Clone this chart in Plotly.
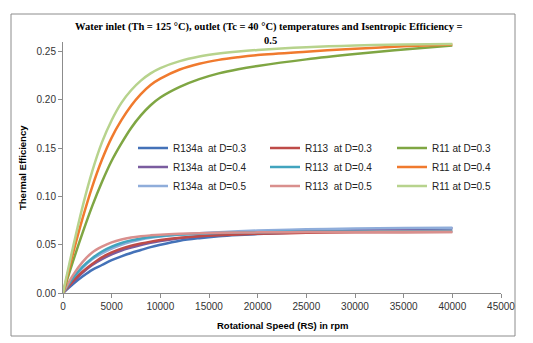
import plotly.graph_objects as go

rpm = [0, 1000, 2000, 3000, 4000, 5000, 6000, 7000, 8000, 9000, 10000, 12000, 14000,
       16000, 18000, 20000, 25000, 30000, 35000, 40000]

r134a_d03 = [0, 0.009, 0.017, 0.024, 0.029, 0.034, 0.038, 0.0415, 0.0445, 0.0475, 0.050, 0.0542, 0.0568,
             0.0587, 0.060, 0.061, 0.0632, 0.0650, 0.0662, 0.0672]
r134a_d04 = [0, 0.011, 0.021, 0.029, 0.035, 0.040, 0.044, 0.047, 0.0497, 0.052, 0.0538, 0.0568, 0.0589,
             0.0604, 0.0616, 0.0626, 0.0644, 0.0656, 0.0665, 0.067]
r134a_d05 = [0, 0.014, 0.026, 0.035, 0.041, 0.046, 0.050, 0.053, 0.0553, 0.0571, 0.0585, 0.0605, 0.0619,
             0.063, 0.0639, 0.0647, 0.066, 0.0668, 0.0673, 0.0676]
r113_d03 = [0, 0.012, 0.022, 0.030, 0.037, 0.042, 0.046, 0.049, 0.0513, 0.0532, 0.0548, 0.0572, 0.0588,
            0.0599, 0.0607, 0.0613, 0.0623, 0.0628, 0.063, 0.0632]
r113_d04 = [0, 0.015, 0.027, 0.036, 0.043, 0.048, 0.0518, 0.0545, 0.0565, 0.0579, 0.059, 0.0605, 0.0615,
            0.0622, 0.0627, 0.063, 0.0635, 0.0638, 0.064, 0.0641]
r113_d05 = [0, 0.018, 0.032, 0.042, 0.048, 0.0525, 0.0555, 0.0575, 0.0588, 0.0597, 0.0604, 0.0613, 0.0619,
            0.0623, 0.0626, 0.0628, 0.0631, 0.0633, 0.0634, 0.0635]
r11_d03 = [0, 0.032, 0.062, 0.090, 0.115, 0.137, 0.155, 0.171, 0.184, 0.1945, 0.2025, 0.2135, 0.2215,
           0.2275, 0.2318, 0.2352, 0.242, 0.2475, 0.2523, 0.2565]
r11_d04 = [0, 0.040, 0.077, 0.110, 0.138, 0.161, 0.179, 0.194, 0.206, 0.2155, 0.222, 0.2315, 0.2375,
           0.2415, 0.2443, 0.2465, 0.250, 0.253, 0.2556, 0.2575]
r11_d05 = [0, 0.046, 0.089, 0.126, 0.156, 0.179, 0.197, 0.210, 0.220, 0.2275, 0.233, 0.2402, 0.2449,
           0.248, 0.2502, 0.2518, 0.2546, 0.2564, 0.2574, 0.258]

series_names = ["R134a  at D=0.3", "R134a  at D=0.4", "R134a  at D=0.5",
                "R113  at D=0.3", "R113  at D=0.4", "R113  at D=0.5",
                "R11 at D=0.3", "R11 at D=0.4", "R11 at D=0.5"]
series_values = [r134a_d03, r134a_d04, r134a_d05,
                 r113_d03, r113_d04, r113_d05,
                 r11_d03, r11_d04, r11_d05]
series_colors = ["#4472B8", "#7A5C9F", "#8FADDA",
                 "#BE4B48", "#41A4BE", "#D98F8D",
                 "#7FA643", "#F07A2E", "#B7D38D"]
series_legend = ["legend", "legend", "legend",
                 "legend2", "legend2", "legend2",
                 "legend3", "legend3", "legend3"]

x_ticks = [0, 5000, 10000, 15000, 20000, 25000, 30000, 35000, 40000, 45000]
y_ticks = [0.00, 0.05, 0.10, 0.15, 0.20, 0.25]

fig = go.Figure()
for name, vals, col, lg in zip(series_names, series_values, series_colors, series_legend):
    fig.add_trace(go.Scatter(x=rpm, y=vals, mode="lines", name=name, legend=lg,
                             line=dict(color=col, width=2.5, shape="spline", smoothing=1.0)))

W, H = 533, 343
L, R, T, B = 63, 32, 42, 50
pw, ph = W - L - R, H - T - B

def px_x(p):
    return (p - L) / pw

def px_y(p):
    return (H - B - p) / ph

def legend_box(left_px):
    return dict(orientation="v", x=px_x(left_px), y=px_y(167), xanchor="left", yanchor="middle",
                itemwidth=30, tracegroupgap=0,
                font=dict(family="Liberation Sans", size=10, color="#222222"),
                bgcolor="rgba(0,0,0,0)")

fig.update_layout(
    width=W, height=H,
    margin=dict(l=L, r=R, t=T, b=B),
    paper_bgcolor="white", plot_bgcolor="white",
    showlegend=True,
    legend=legend_box(133),
    legend2=legend_box(265),
    legend3=legend_box(392),
    xaxis=dict(range=[0, 45000], tickvals=x_ticks, ticktext=[str(v) for v in x_ticks],
               showgrid=False, zeroline=False, showline=True, linecolor="#8c8c8c", linewidth=1,
               ticks="outside", ticklen=4, tickcolor="#8c8c8c",
               tickfont=dict(family="Liberation Sans", size=10, color="#333333")),
    yaxis=dict(range=[0, 0.26], tickvals=y_ticks, ticktext=[f"{v:.2f}" for v in y_ticks],
               showgrid=False, zeroline=False, showline=True, linecolor="#8c8c8c", linewidth=1,
               ticks="outside", ticklen=4, tickcolor="#8c8c8c",
               tickfont=dict(family="Liberation Sans", size=10, color="#333333")),
    annotations=[
        dict(text="<b>Water inlet (Th = 125 °C), outlet (Tc = 40 °C) temperatures and Isentropic Efficiency =</b>",
             xref="paper", yref="paper", x=px_x(269), y=px_y(27), xanchor="center", yanchor="middle",
             showarrow=False, font=dict(family="Liberation Serif", size=10.5, color="black")),
        dict(text="<b>0.5</b>",
             xref="paper", yref="paper", x=px_x(270), y=px_y(40), xanchor="center", yanchor="middle",
             showarrow=False, font=dict(family="Liberation Serif", size=10.5, color="black")),
        dict(text="<b>Thermal Efficiency</b>", textangle=-90,
             xref="paper", yref="paper", x=px_x(22), y=px_y(168), xanchor="center", yanchor="middle",
             showarrow=False, font=dict(family="Liberation Sans", size=9.5, color="black")),
        dict(text="<b>Rotational Speed (RS) in rpm</b>",
             xref="paper", yref="paper", x=px_x(282), y=px_y(326), xanchor="center", yanchor="middle",
             showarrow=False, font=dict(family="Liberation Sans", size=9.5, color="black")),
    ],
    shapes=[dict(type="rect", xref="paper", yref="paper",
                 x0=px_x(11), x1=px_x(515), y0=px_y(336), y1=px_y(14),
                 line=dict(color="#8c8c8c", width=1), fillcolor="rgba(0,0,0,0)", layer="below")],
)

fig.write_html("out.html", config={"displayModeBar": False},
               post_script="document.body.style.margin='0';document.body.style.overflow='hidden';")
